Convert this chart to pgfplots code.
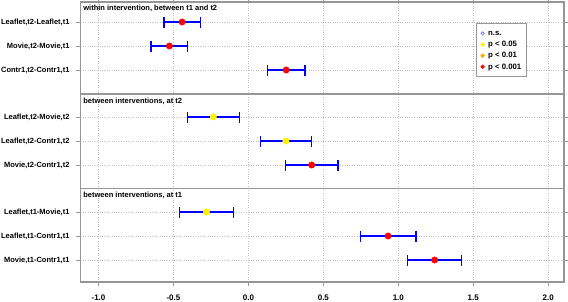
\documentclass[border=0pt]{standalone}
\usepackage{pgfplots}
\pgfplotsset{compat=1.18}
\usepackage{fontspec}
\setmainfont{Liberation Sans}
\definecolor{framegray}{RGB}{150,150,150}
\definecolor{gridgray}{RGB}{195,195,195}
\definecolor{ptorange}{RGB}{255,165,0}
\newcommand{\lblfont}{\bfseries\fontsize{7.5}{9}\selectfont}
\begin{document}
\begin{tikzpicture}
\begin{axis}[
  scale only axis, width=483.5pt, height=280pt,
  xmin=-1.12, xmax=2.105, ymin=0, ymax=280,
  xtick={-1,-0.5,0,0.5,1,1.5,2},
  xticklabels={-1.0,-0.5,0.0,0.5,1.0,1.5,2.0},
  ytick={22,46,70,117,141,165,212,236,260},
  yticklabels={{Movie,t1-Contr1,t1},{Leaflet,t1-Contr1,t1},{Leaflet,t1-Movie,t1},
               {Movie,t2-Contr1,t2},{Leaflet,t2-Contr1,t2},{Leaflet,t2-Movie,t2},
               {Contr1,t2-Contr1,t1},{Movie,t2-Movie,t1},{Leaflet,t2-Leaflet,t1}},
  axis line style={framegray, line width=1.2pt},
  tick style={framegray, line width=0.8pt},
  tick align=outside, major tick length=4pt,
  xmajorgrids, ymajorgrids,
  grid style={gridgray, dotted, line width=0.8pt},
  ticklabel style={font=\lblfont},
  yticklabel style={xshift=-3.5pt},
  xticklabel style={font=\bfseries\fontsize{8}{9}\selectfont, yshift=-5pt},
  legend style={at={(0.9235,0.925)}, anchor=north east, draw=framegray, line width=0.8pt,
     font=\bfseries\fontsize{7.8}{9}\selectfont, inner xsep=4.5pt, inner ysep=4.5pt, row sep=0pt,
     column sep=3pt,
     nodes={inner sep=0.8pt, text height=7pt, text depth=2.5pt}},
  legend cell align=left,
]
% red points
\addplot[only marks, mark=*, mark size=3.2pt, mark options={fill=red, draw=red},
  forget plot,
  error bars/.cd, x dir=both, x explicit,
  error bar style={blue, line width=1.5pt},
  error mark options={blue, line width=1.5pt, mark size=5.5pt, rotate=90}]
  table[x=x, y=y, x error=e] {
x       y    e
-0.442  260  0.121
-0.527  236  0.122
0.252   212  0.124
0.422   117  0.175
0.932   46   0.186
1.242   22   0.180
};
% yellow points
\addplot[only marks, mark=*, mark size=3.2pt, mark options={fill=yellow, draw=yellow},
  forget plot,
  error bars/.cd, x dir=both, x explicit,
  error bar style={blue, line width=1.5pt},
  error mark options={blue, line width=1.5pt, mark size=5.5pt, rotate=90}]
  table[x=x, y=y, x error=e] {
x       y    e
-0.234  165  0.173
0.250   141  0.170
-0.280  70   0.180
};
\addlegendimage{only marks, mark=o, mark size=1.7pt, blue!60!white, line width=0.6pt}
\addlegendentry{n.s.}
\addlegendimage{only marks, mark=*, mark size=1.7pt, draw=yellow, fill=yellow}
\addlegendentry{p < 0.05}
\addlegendimage{only marks, mark=*, mark size=1.7pt, draw=ptorange, fill=ptorange}
\addlegendentry{p < 0.01}
\addlegendimage{only marks, mark=*, mark size=1.7pt, draw=red, fill=red}
\addlegendentry{p < 0.001}
\draw[framegray, line width=1.2pt] (axis cs:-1.12,93.5) -- (axis cs:2.105,93.5);
\draw[framegray, line width=1.2pt] (axis cs:-1.12,188) -- (axis cs:2.105,188);
\node[anchor=west, inner sep=0pt, font=\lblfont] at (axis cs:-1.102,274) {within intervention, between t1 and t2};
\node[anchor=west, inner sep=0pt, font=\lblfont] at (axis cs:-1.102,181) {between interventions, at t2};
\node[anchor=west, inner sep=0pt, font=\lblfont] at (axis cs:-1.102,86.5) {between interventions, at t1};
\end{axis}
\pgfresetboundingbox
\path ([shift={(-80.5pt,-19pt)}]current axis.south west) rectangle ([shift={(4pt,2pt)}]current axis.north east);
\end{tikzpicture}
\end{document}
